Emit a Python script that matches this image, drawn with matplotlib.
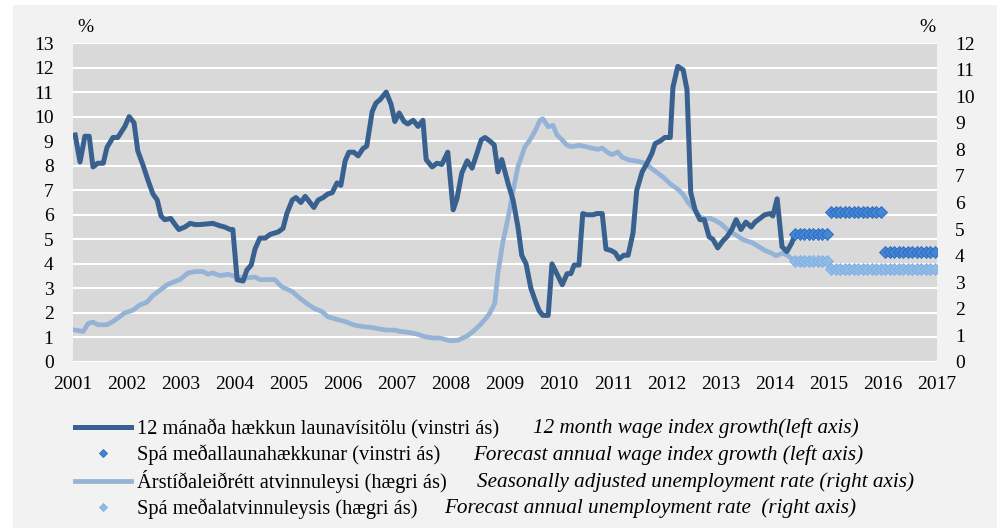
import numpy as np
import matplotlib.pyplot as plt
from matplotlib.patches import Rectangle

FONT = 'Liberation Serif'
plt.rcParams['font.family'] = [FONT, 'DejaVu Serif']

# 12 month wage index growth (left axis)
wage_x = [2001.04, 2001.13, 2001.22, 2001.30, 2001.37, 2001.46, 2001.56, 2001.63, 2001.74, 2001.83,
          2001.96, 2002.04, 2002.13, 2002.20, 2002.30, 2002.39, 2002.48, 2002.56, 2002.63, 2002.70,
          2002.81, 2002.89, 2002.96, 2003.07, 2003.17, 2003.26, 2003.35, 2003.59, 2003.72, 2003.81,
          2003.91, 2003.96, 2004.04, 2004.15, 2004.22, 2004.30, 2004.37, 2004.46, 2004.56, 2004.65,
          2004.80, 2004.89, 2004.96, 2005.06, 2005.13, 2005.22, 2005.30, 2005.39, 2005.46, 2005.54,
          2005.63, 2005.72, 2005.80, 2005.89, 2005.96, 2006.04, 2006.11, 2006.20, 2006.28, 2006.37,
          2006.44, 2006.54, 2006.61, 2006.69, 2006.80, 2006.89, 2006.96, 2007.04, 2007.13, 2007.20,
          2007.30, 2007.39, 2007.48, 2007.54, 2007.65, 2007.74, 2007.83, 2007.94, 2008.04, 2008.11,
          2008.20, 2008.30, 2008.39, 2008.48, 2008.56, 2008.63, 2008.72, 2008.80, 2008.87, 2008.94,
          2009.06, 2009.15, 2009.24, 2009.31, 2009.39, 2009.48, 2009.56, 2009.63, 2009.70, 2009.80,
          2009.87, 2009.96, 2010.06, 2010.15, 2010.22, 2010.28, 2010.37, 2010.44, 2010.52, 2010.63,
          2010.70, 2010.80, 2010.87, 2010.96, 2011.04, 2011.11, 2011.20, 2011.28, 2011.37, 2011.44,
          2011.54, 2011.63, 2011.72, 2011.78, 2011.87, 2011.96, 2012.06, 2012.11, 2012.20, 2012.30,
          2012.37, 2012.44, 2012.52, 2012.61, 2012.69, 2012.78, 2012.85, 2012.94, 2013.04, 2013.11,
          2013.20, 2013.28, 2013.37, 2013.46, 2013.56, 2013.63, 2013.72, 2013.81, 2013.91, 2013.96,
          2014.04, 2014.13, 2014.22, 2014.31, 2014.37]
wage_y = [9.25, 8.15, 9.2, 9.2, 7.95, 8.1, 8.1, 8.75, 9.15, 9.15,
          9.6, 10.0, 9.75, 8.6, 8.0, 7.4, 6.85, 6.6, 5.95, 5.8,
          5.85, 5.6, 5.4, 5.5, 5.65, 5.6, 5.6, 5.65, 5.55, 5.5,
          5.4, 5.4, 3.35, 3.3, 3.75, 3.95, 4.6, 5.05, 5.05, 5.2,
          5.3, 5.45, 6.05, 6.6, 6.7, 6.5, 6.75, 6.5, 6.3, 6.6,
          6.7, 6.85, 6.9, 7.3, 7.2, 8.2, 8.55, 8.55, 8.4, 8.7,
          8.8, 10.2, 10.55, 10.7, 11.0, 10.5, 9.8, 10.15, 9.8, 9.7,
          9.85, 9.6, 9.85, 8.25, 7.95, 8.1, 8.05, 8.55, 6.2, 6.65,
          7.7, 8.2, 7.9, 8.5, 9.05, 9.15, 9.0, 8.85, 7.75, 8.25,
          7.25, 6.6, 5.5, 4.35, 4.0, 3.0, 2.5, 2.1, 1.9, 1.9,
          4.0, 3.6, 3.15, 3.6, 3.6, 3.95, 3.95, 6.05, 6.0, 6.0,
          6.05, 6.05, 4.6, 4.55, 4.45, 4.2, 4.35, 4.35, 5.25, 7.0,
          7.75, 8.1, 8.5, 8.9, 9.0, 9.15, 9.15, 11.2, 12.05, 11.9,
          11.1, 6.9, 6.2, 5.8, 5.8, 5.1, 5.0, 4.65, 4.95, 5.1,
          5.4, 5.8, 5.4, 5.7, 5.5, 5.7, 5.85, 6.0, 6.05, 5.95,
          6.65, 4.7, 4.5, 4.85, 5.2]

# seasonally adjusted unemployment (right axis)
unemp_x = [2001.04, 2001.19, 2001.28, 2001.37, 2001.46, 2001.63, 2001.72, 2001.83, 2001.96, 2002.11,
           2002.24, 2002.37, 2002.48, 2002.61, 2002.74, 2002.85, 2002.98, 2003.13, 2003.26, 2003.41,
           2003.50, 2003.59, 2003.72, 2003.87, 2004.04, 2004.19, 2004.37, 2004.46, 2004.61, 2004.74,
           2004.83, 2004.89, 2005.06, 2005.20, 2005.33, 2005.48, 2005.61, 2005.72, 2005.89, 2006.07,
           2006.19, 2006.37, 2006.54, 2006.65, 2006.81, 2006.96, 2007.06, 2007.20, 2007.37, 2007.52,
           2007.67, 2007.80, 2007.98, 2008.13, 2008.30, 2008.41, 2008.54, 2008.67, 2008.72, 2008.81,
           2008.87, 2008.96, 2009.06, 2009.15, 2009.24, 2009.37, 2009.46, 2009.56, 2009.65, 2009.70,
           2009.80, 2009.89, 2009.96, 2010.06, 2010.15, 2010.24, 2010.37, 2010.50, 2010.59, 2010.72,
           2010.80, 2010.89, 2010.98, 2011.09, 2011.17, 2011.30, 2011.46, 2011.56, 2011.67, 2011.80,
           2011.93, 2012.06, 2012.20, 2012.30, 2012.39, 2012.52, 2012.61, 2012.70, 2012.81, 2012.91,
           2013.00, 2013.13, 2013.26, 2013.41, 2013.56, 2013.65, 2013.81, 2013.93, 2014.02, 2014.15,
           2014.24, 2014.33]
unemp_y = [1.2, 1.15, 1.45, 1.5, 1.4, 1.4, 1.5, 1.65, 1.85, 1.95,
           2.15, 2.25, 2.5, 2.7, 2.9, 3.0, 3.1, 3.35, 3.4, 3.4,
           3.3, 3.35, 3.25, 3.3, 3.2, 3.15, 3.2, 3.1, 3.1, 3.1,
           2.9, 2.8, 2.65, 2.4, 2.2, 2.0, 1.9, 1.7, 1.6, 1.5,
           1.4, 1.33, 1.3, 1.25, 1.2, 1.2, 1.15, 1.12, 1.05, 0.95,
           0.9, 0.9, 0.8, 0.82, 0.98, 1.15, 1.4, 1.7, 1.85, 2.2,
           3.35, 4.5, 5.45, 6.45, 7.35, 8.1, 8.35, 8.7, 9.1, 9.15,
           8.85, 8.9, 8.55, 8.35, 8.15, 8.1, 8.15, 8.1, 8.05, 8.0,
           8.05, 7.9, 7.8, 7.9, 7.7, 7.6, 7.55, 7.5, 7.35, 7.15,
           6.95, 6.7, 6.5, 6.3, 6.0, 5.7, 5.45, 5.4, 5.4, 5.3,
           5.2, 4.95, 4.8, 4.6, 4.5, 4.4, 4.2, 4.1, 4.0, 4.1,
           4.0, 3.85]

# forecasts (monthly markers)
fc_x = np.concatenate([2014.375 + np.arange(8) / 12, 2015.04 + np.arange(24) / 12])
wage_fc = [5.2] * 8 + [6.1] * 12 + [4.5] * 12
unemp_fc = [3.8] * 8 + [3.5] * 24

years = list(range(2001, 2018))

lbl_is = ['12 mánaða hækkun launavísitölu (vinstri ás)',
          'Spá meðallaunahækkunar (vinstri ás)',
          'Árstíðaleiðrétt atvinnuleysi (hægri ás)',
          'Spá meðalatvinnuleysis (hægri ás)']
lbl_en = ['12 month wage index growth(left axis)',
          'Forecast annual wage index growth (left axis)',
          'Seasonally adjusted unemployment rate (right axis)',
          'Forecast annual unemployment rate  (right axis)']

dark = '#38618f'
light = '#95b3d7'

fig = plt.figure(figsize=(10.02, 5.28), dpi=100)
fig.patch.set_facecolor('white')
fig.add_artist(Rectangle((13 / 1002, 0), 984 / 1002, 523 / 528, transform=fig.transFigure,
                         facecolor='#f2f2f2', edgecolor='none', zorder=-10))

# ax: background, grid and left ticks; ax2: right axis line; ax3: left axis lines on top
ax = fig.add_axes([73 / 1002, 1 - 362 / 528, 864 / 1002, 319 / 528])
ax.set_facecolor('#d9d9d9')
ax2 = ax.twinx()
ax3 = ax.twinx()

l3, = ax2.plot(unemp_x, unemp_y, color=light, lw=3.4, solid_joinstyle='round')
l4, = ax2.plot(fc_x, unemp_fc, ls='none', marker='D', ms=6.3,
               mfc='#8fbbe8', mec='#80addf', mew=0.6)
l1, = ax3.plot(wage_x, wage_y, color=dark, lw=3.6, solid_joinstyle='round')
l2, = ax3.plot(fc_x, wage_fc, ls='none', marker='D', ms=6.3,
               mfc='#4485d6', mec='#2a68ba', mew=0.6)

ax.set_xlim(2001, 2017)
ax.set_ylim(0, 13)
ax3.set_ylim(0, 13)
ax2.set_ylim(0, 12)
ax.set_yticks(range(0, 14))
ax2.set_yticks(range(0, 13))
ax3.set_yticks([])
ax.set_xticks(years)
ax.set_xticklabels([str(y) for y in years])
ax.grid(axis='y', color='white', lw=1.5)
for a in (ax, ax2, ax3):
    for s in a.spines.values():
        s.set_visible(False)
ax.tick_params(axis='both', length=0, labelsize=14)
ax.tick_params(axis='y', pad=14)
ax.tick_params(axis='x', pad=10)
ax2.tick_params(axis='y', length=0, labelsize=14, pad=13)
for lbl in ax.get_xticklabels() + ax.get_yticklabels() + ax2.get_yticklabels():
    lbl.set_family(FONT)

fig.text(85 / 1002, 1 - 28 / 528, '%', fontsize=14, family=FONT, ha='center', va='center')
fig.text(927 / 1002, 1 - 28 / 528, '%', fontsize=14, family=FONT, ha='center', va='center')

ax3.legend([l1, l2, l3, l4], lbl_is, loc='upper left',
           bbox_to_anchor=(75 / 1002, 1 - 419 / 528), bbox_transform=fig.transFigure,
           frameon=False, prop={'family': FONT, 'size': 14.7}, handlelength=2.75,
           handletextpad=0.3, labelspacing=0.25, borderpad=0, borderaxespad=0,
           markerscale=0.7)

en_x = [533, 473, 477, 444]
en_y = [428, 455, 482, 508]
for t, x, y in zip(lbl_en, en_x, en_y):
    fig.text(x / 1002, 1 - y / 528, t, fontsize=15.2, family=FONT, style='italic', va='center')

fig.savefig('out.png', dpi=100)
